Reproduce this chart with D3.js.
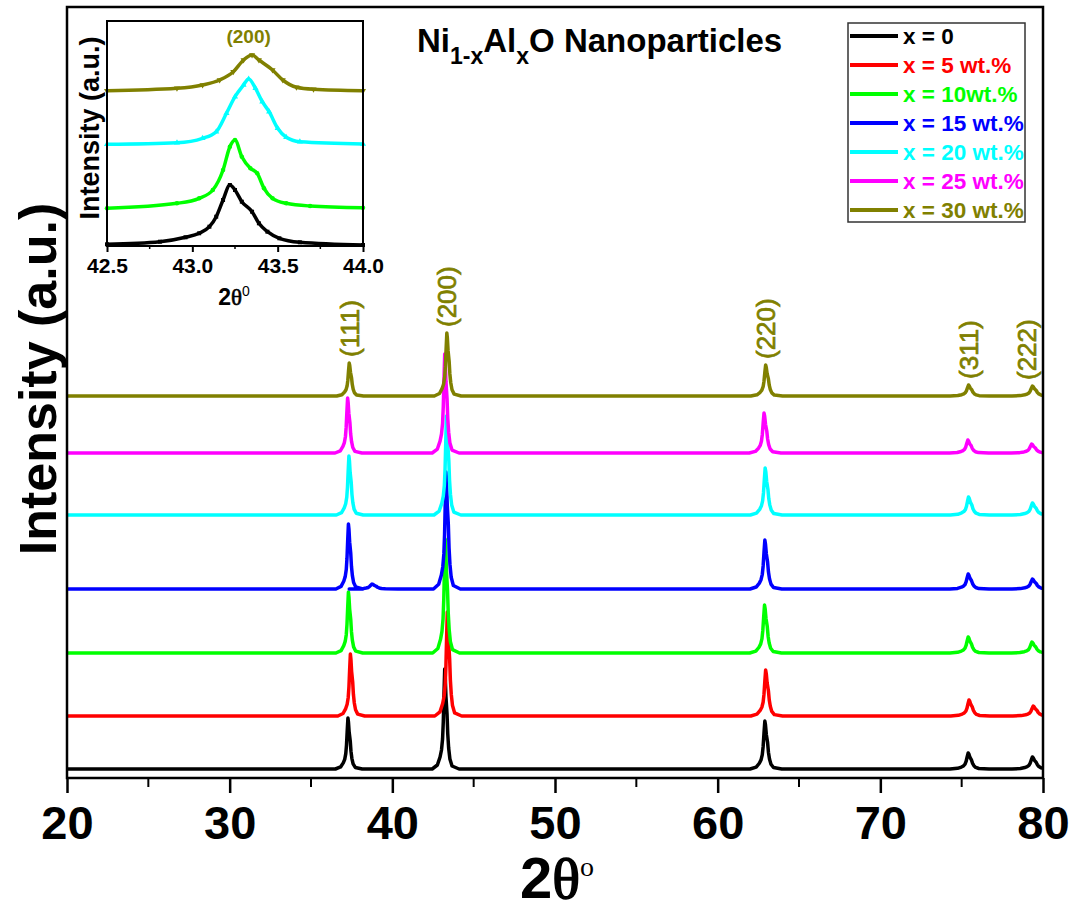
<!DOCTYPE html>
<html>
<head>
<meta charset="utf-8">
<script src="https://cdn.jsdelivr.net/npm/d3@7"></script>
<style>
  body { margin: 0; background: #fff; }
  svg { display: block; font-family: "Liberation Sans", Arial, sans-serif; font-weight: bold; }
</style>
</head>
<body>
<svg id="chart" width="1073" height="911"></svg>
<script>
// ---- data ----
const seriesNames = ["x = 0", "x = 5 wt.%", "x = 10wt.%", "x = 15 wt.%", "x = 20 wt.%", "x = 25 wt.%", "x = 30 wt.%"];
const seriesColors = ["#000000", "#ff0000", "#00ff00", "#0000ff", "#00ffff", "#ff00ff", "#808000"];
// vertical stacking offset of each pattern (a.u.)
const baselineOffset = [9, 62, 125, 189, 263, 325, 382];

const reflections = ["(111)", "(200)", "(220)", "(311)", "(222)"];
const reflectionLabelPos = [37.35, 43.35, 62.95, 75.40, 79.00];
// peak centre (2theta) per series, per reflection
const peakPositions = [
  [37.27, 43.22, 62.90, 75.40, 79.35],
  [37.42, 43.38, 62.95, 75.45, 79.40],
  [37.30, 43.25, 62.88, 75.40, 79.32],
  [37.30, 43.30, 62.90, 75.40, 79.35],
  [37.33, 43.33, 62.92, 75.42, 79.35],
  [37.25, 43.22, 62.85, 75.38, 79.30],
  [37.35, 43.35, 62.95, 75.42, 79.35]
];
// peak height above the pattern's own baseline (a.u.)
const peakHeights = [
  [51, 100, 48, 16, 12],
  [62, 104, 46, 16, 10],
  [61, 114, 48, 16, 11],
  [65, 117, 49, 15, 10],
  [59, 99, 47, 18, 12],
  [55, 99, 40, 13, 9],
  [33, 63, 31, 11, 10]
];
const peakWidthFactor = [1.1, 1.1, 1.3, 1.6, 1.8];
// small extra bump seen in the 15 wt.% pattern
const extraPeaks = [[], [], [], [[38.75, 5]], [], [], []];
const peakShape = [[-0.7, 0], [-0.41, 0.04], [-0.26, 0.12], [-0.18, 0.19], [-0.12, 0.3], [-0.08, 0.47],
  [-0.04, 0.75], [0, 1], [0.03, 0.92], [0.07, 0.72], [0.13, 0.55], [0.17, 0.35], [0.22, 0.21],
  [0.29, 0.1], [0.41, 0.03], [0.8, 0]];

const xTicks = [20, 30, 40, 50, 60, 70, 80];
const xMinorTicks = [25, 35, 45, 55, 65, 75];

// inset: (200) reflection zoom, series x = 0, 10, 20, 30 wt.%
const insetSeries = [0, 2, 4, 6];
const insetSymbols = [d3.symbolSquare, d3.symbolCircle, d3.symbolTriangle, d3.symbolTriangle];
const insetData = [
  [[42.50, 1.7], [42.81, 4.3], [42.96, 8.7], [43.04, 12.7], [43.10, 19.3], [43.14, 29.3], [43.18, 46],
   [43.22, 61], [43.25, 56], [43.29, 44.3], [43.35, 34.3], [43.39, 22.7], [43.44, 14.3], [43.51, 7.7],
   [43.63, 3.7], [44.00, 1]],
  [[42.50, 37.7], [42.91, 42.7], [43.04, 47.7], [43.12, 56], [43.18, 76], [43.22, 99.3], [43.25, 106],
   [43.29, 89.3], [43.34, 77.7], [43.38, 72.7], [43.42, 57.7], [43.47, 47.7], [43.55, 42.7], [43.69, 40],
   [44.00, 38.3]],
  [[42.50, 101.7], [42.91, 103.3], [43.06, 107.7], [43.14, 114.3], [43.20, 132.7], [43.25, 149.3],
   [43.30, 161], [43.33, 167], [43.37, 157.7], [43.41, 144.3], [43.45, 134.3], [43.50, 117.7],
   [43.55, 108.7], [43.63, 104.3], [44.00, 102]],
  [[42.50, 155.3], [42.91, 157.7], [43.06, 161], [43.16, 166], [43.24, 174.3], [43.30, 186], [43.35, 191],
   [43.39, 186], [43.47, 176], [43.53, 166], [43.61, 158.7], [43.71, 156.7], [44.00, 155.3]]
];
const insetTicks = [42.5, 43.0, 43.5, 44.0];
const insetMinorTicks = [42.75, 43.25, 43.75];

// ---- layout ----
const plot = { left: 67, right: 1043, top: 7, bottom: 778 };
const inset = { left: 107, right: 363, top: 21, bottom: 246 };

const svg = d3.select("#chart");

const x = d3.scaleLinear().domain([20, 80]).range([plot.left, plot.right]);
const y = d3.scaleLinear().domain([0, 771]).range([plot.bottom, plot.top]);

// build each pattern: flat baseline plus the read peaks
function buildPattern(i) {
  const pts = [[20, 0]];
  const peaks = peakPositions[i].map((p, k) => [p, peakHeights[i][k], peakWidthFactor[k]])
    .concat(extraPeaks[i].map(e => [e[0], e[1], 2]));
  peaks.sort((a, b) => a[0] - b[0]);
  peaks.forEach(([pos, h, w]) => {
    peakShape.forEach(([dx, f]) => pts.push([pos + dx * w, h * f]));
  });
  pts.push([80, 0]);
  return pts.map(d => [d[0], d[1] + baselineOffset[i]]);
}

svg.append("clipPath").attr("id", "plotclip")
  .append("rect").attr("x", plot.left).attr("y", plot.top)
  .attr("width", plot.right - plot.left).attr("height", plot.bottom - plot.top);

const line = d3.line().x(d => x(d[0])).y(d => y(d[1]));

const patterns = svg.append("g").attr("clip-path", "url(#plotclip)");
seriesNames.forEach((name, i) => {
  patterns.append("path")
    .datum(buildPattern(i))
    .attr("d", line)
    .attr("fill", "none")
    .attr("stroke", seriesColors[i])
    .attr("stroke-width", 3.5)
    .attr("stroke-linejoin", "round");
});

// reflection labels above the top pattern
reflections.forEach((lab, k) => {
  const top = y(baselineOffset[6] + peakHeights[6][k]) - 6;
  svg.append("text")
    .attr("transform", `translate(${x(reflectionLabelPos[k])},${top}) rotate(-90)`)
    .attr("dy", "0.36em")
    .attr("fill", "#808000")
    .style("font-size", "26px")
    .style("font-weight", "normal")
    .style("stroke", "#808000").style("stroke-width", 0.7)
    .text(lab);
});

// frame
svg.append("rect")
  .attr("x", plot.left).attr("y", plot.top)
  .attr("width", plot.right - plot.left).attr("height", plot.bottom - plot.top)
  .attr("fill", "none").attr("stroke", "#000").attr("stroke-width", 2.5);

// x axis
const xAxis = svg.append("g")
  .attr("transform", `translate(0,${plot.bottom})`)
  .call(d3.axisBottom(x).tickValues(xTicks).tickSize(15).tickPadding(13).tickFormat(d3.format("d")));
xAxis.select(".domain").remove();
xAxis.selectAll(".tick line").attr("stroke-width", 2.5);
xAxis.selectAll(".tick text").style("font-size", "47px").style("font-weight", "bold")
  .style("font-family", "'Liberation Sans', Arial, sans-serif").attr("fill", "#000");
svg.append("g").attr("transform", `translate(0,${plot.bottom})`)
  .selectAll("line").data(xMinorTicks).join("line")
  .attr("x1", d => x(d)).attr("x2", d => x(d)).attr("y1", 0).attr("y2", 9)
  .attr("stroke", "#000").attr("stroke-width", 2);

// axis titles
const xTitle = svg.append("text")
  .attr("x", (plot.left + plot.right) / 2 + 2).attr("y", 898)
  .attr("text-anchor", "middle").style("font-size", "58px");
xTitle.append("tspan").text("2");
xTitle.append("tspan").style("font-family", "'Liberation Serif', serif").style("font-weight", "normal")
  .style("stroke", "#000").style("stroke-width", 1.5).text("θ");
xTitle.append("tspan").attr("dy", -22).style("font-size", "28px")
  .style("font-family", "'Liberation Serif', serif").style("font-weight", "normal").text("o");

svg.append("text")
  .attr("transform", `translate(37,379) rotate(-90)`)
  .attr("dy", "0.36em")
  .attr("text-anchor", "middle")
  .style("font-size", "52px")
  .text("Intensity (a.u.)");

// title
const title = svg.append("text").attr("x", 417).attr("y", 52).style("font-size", "33px");
title.append("tspan").text("Ni");
title.append("tspan").attr("dy", 12).style("font-size", "23px").text("1-x");
title.append("tspan").attr("dy", -12).text("Al");
title.append("tspan").attr("dy", 12).style("font-size", "23px").text("x");
title.append("tspan").attr("dy", -12).text("O Nanoparticles");

// legend
const legend = svg.append("g");
legend.append("rect")
  .attr("x", 848).attr("y", 23).attr("width", 177).attr("height", 199)
  .attr("fill", "#fff").attr("stroke", "#333").attr("stroke-width", 1.5);
seriesNames.forEach((name, i) => {
  const cy = 36 + i * 29;
  legend.append("line")
    .attr("x1", 850).attr("x2", 898).attr("y1", cy).attr("y2", cy)
    .attr("stroke", seriesColors[i]).attr("stroke-width", 4);
  legend.append("text")
    .attr("x", 903).attr("y", cy).attr("dy", "0.36em")
    .attr("fill", seriesColors[i])
    .style("font-size", "22.5px")
    .text(name);
});

// ---- inset ----
const ix = d3.scaleLinear().domain([42.5, 44.0]).range([inset.left, inset.right]);
const iy = d3.scaleLinear().domain([0, 225]).range([inset.bottom, inset.top]);
const iline = d3.line().x(d => ix(d[0])).y(d => iy(d[1])).curve(d3.curveMonotoneX);

svg.append("rect")
  .attr("x", inset.left).attr("y", inset.top)
  .attr("width", inset.right - inset.left).attr("height", inset.bottom - inset.top)
  .attr("fill", "#fff");

insetData.forEach((data, j) => {
  const col = seriesColors[insetSeries[j]];
  svg.append("path").datum(data).attr("d", iline)
    .attr("fill", "none").attr("stroke", col).attr("stroke-width", 3.5);
  const sym = d3.symbol().type(insetSymbols[j]).size(16);
  svg.append("g").selectAll("path").data(data).join("path")
    .attr("transform", d => `translate(${ix(d[0])},${iy(d[1])})` + (j === 3 ? " rotate(180)" : ""))
    .attr("d", sym)
    .attr("fill", col);
});

svg.append("rect")
  .attr("x", inset.left).attr("y", inset.top)
  .attr("width", inset.right - inset.left).attr("height", inset.bottom - inset.top)
  .attr("fill", "none").attr("stroke", "#000").attr("stroke-width", 2);

const ixAxis = svg.append("g")
  .attr("transform", `translate(0,${inset.bottom})`)
  .call(d3.axisBottom(ix).tickValues(insetTicks).tickSize(6).tickPadding(6).tickFormat(d3.format(".1f")));
ixAxis.select(".domain").remove();
ixAxis.selectAll(".tick line").attr("stroke-width", 2);
ixAxis.selectAll(".tick text").style("font-size", "21px").style("font-weight", "bold")
  .style("font-family", "'Liberation Sans', Arial, sans-serif").attr("fill", "#000");
svg.append("g").attr("transform", `translate(0,${inset.bottom})`)
  .selectAll("line").data(insetMinorTicks).join("line")
  .attr("x1", d => ix(d)).attr("x2", d => ix(d)).attr("y1", 0).attr("y2", 3)
  .attr("stroke", "#000").attr("stroke-width", 1.5);

svg.append("text")
  .attr("x", ix(43.33)).attr("y", 43)
  .attr("text-anchor", "middle").attr("fill", "#808000")
  .style("font-size", "19px")
  .text("(200)");

const ixTitle = svg.append("text")
  .attr("x", 234).attr("y", 305).attr("text-anchor", "middle").style("font-size", "23px");
ixTitle.append("tspan").text("2");
ixTitle.append("tspan").style("font-family", "'Liberation Serif', serif").style("font-weight", "normal")
  .style("stroke", "#000").style("stroke-width", 0.6).text("θ");
ixTitle.append("tspan").attr("dy", -9).style("font-size", "14px").style("font-weight", "normal").text("0");

svg.append("text")
  .attr("transform", `translate(89,128) rotate(-90)`)
  .attr("dy", "0.36em")
  .attr("text-anchor", "middle")
  .style("font-size", "27px")
  .text("Intensity (a.u.)");
</script>
</body>
</html>
